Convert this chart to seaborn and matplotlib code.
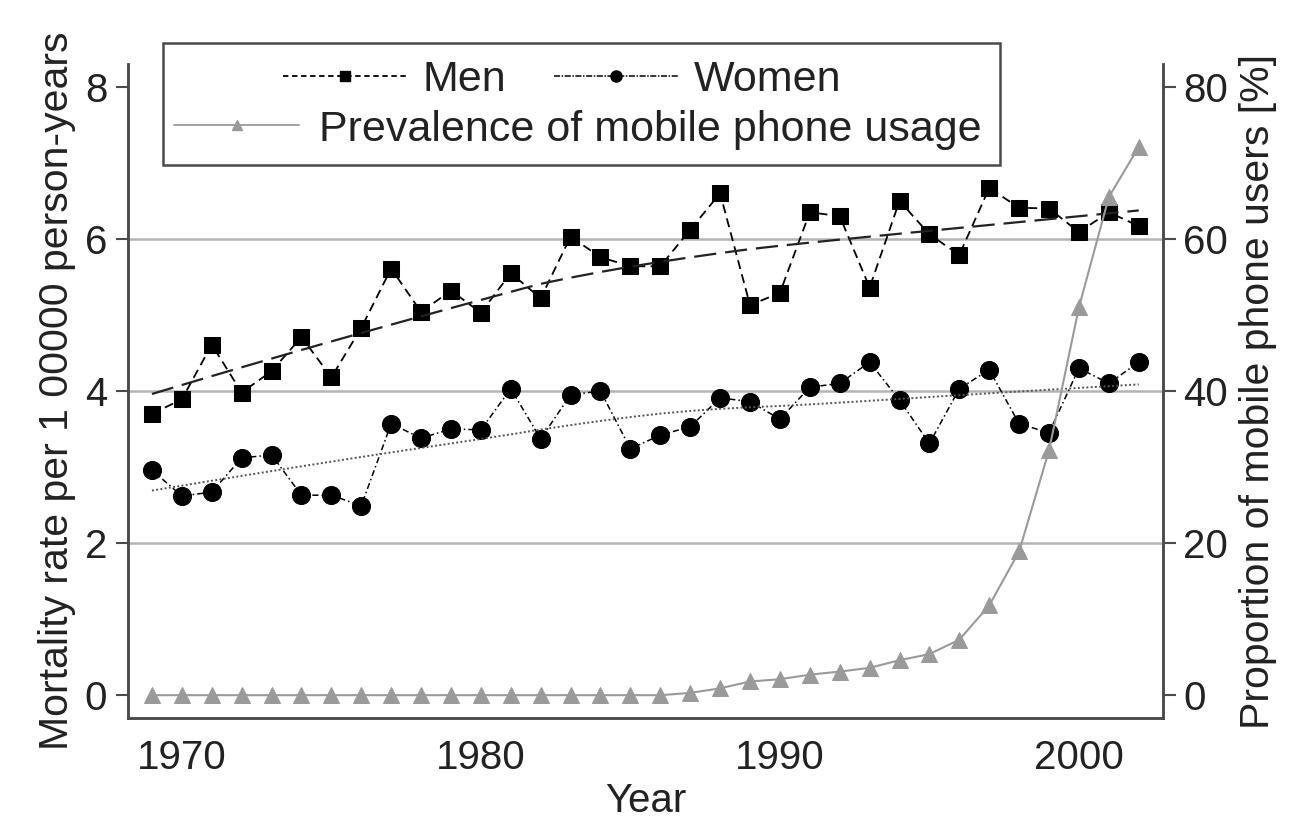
import numpy as np
import pandas as pd
import matplotlib
matplotlib.use("Agg")
import matplotlib.pyplot as plt
import seaborn as sns
from matplotlib.lines import Line2D
from matplotlib.patches import Rectangle

# dados
anos = list(range(1969, 2003))
homens = [3.70, 3.89, 4.61, 3.98, 4.26, 4.71, 4.18, 4.83, 5.61, 5.04,
          5.32, 5.03, 5.55, 5.22, 6.03, 5.76, 5.64, 5.64, 6.12, 6.60,
          5.13, 5.29, 6.35, 6.30, 5.36, 6.50, 6.06, 5.79, 6.67, 6.41,
          6.40, 6.09, 6.35, 6.17]
mulheres = [2.96, 2.62, 2.67, 3.12, 3.16, 2.63, 2.63, 2.49, 3.57, 3.38,
            3.50, 3.49, 4.03, 3.37, 3.95, 4.00, 3.24, 3.42, 3.53, 3.91,
            3.86, 3.63, 4.05, 4.10, 4.38, 3.88, 3.31, 4.03, 4.28, 3.57,
            3.45, 4.30, 4.10, 4.38]
celular = [0, 0, 0, 0, 0, 0, 0, 0, 0, 0,
           0, 0, 0, 0, 0, 0, 0, 0, 0.3, 0.9,
           1.8, 2.1, 2.7, 3.1, 3.6, 4.6, 5.4, 7.3, 11.8, 18.9,
           32.2, 51.0, 65.5, 72.1]


def lowess(x, y, bw=0.8):
    # suavizacao local linear com pesos tricubicos (tipo lowess do Stata)
    x = np.asarray(x, float)
    y = np.asarray(y, float)
    n = len(x)
    k = int(np.ceil(bw * n))
    out = []
    for x0 in x:
        d = np.abs(x - x0)
        h = np.sort(d)[k - 1] * 1.0001
        w = np.clip(1 - (d / h) ** 3, 0, None) ** 3
        W = np.sum(w)
        xm = np.sum(w * x) / W
        ym = np.sum(w * y) / W
        b = np.sum(w * (x - xm) * (y - ym)) / np.sum(w * (x - xm) ** 2)
        out.append(ym + b * (x0 - xm))
    return np.array(out)


df = pd.DataFrame({'ano': anos, 'homens': homens, 'mulheres': mulheres, 'celular': celular})
df['tend_h'] = lowess(df['ano'], df['homens'])
df['tend_m'] = lowess(df['ano'], df['mulheres'])

sns.set_style('white')
plt.rcParams['font.family'] = ['Liberation Sans', 'DejaVu Sans']

fig = plt.figure(figsize=(13.13, 8.25), dpi=100)
ax = fig.add_axes([0.0975, 0.1297, 0.788, 0.7927])
ax2 = ax.twinx()

cinza = '#9a9a9a'
eixo = '#4a4a4a'
texto = '#222222'

# series de mortalidade
sns.lineplot(data=df, x='ano', y='homens', ax=ax, color='black', lw=1.3,
             linestyle=(0, (5, 3)), marker='s', markersize=11, markeredgecolor='black')
sns.lineplot(data=df, x='ano', y='mulheres', ax=ax, color='black', lw=1.1,
             linestyle=(0, (4, 2, 1, 2)), marker='o', markersize=13, markeredgecolor='black')

# tendencias (lowess)
sns.lineplot(data=df, x='ano', y='tend_h', ax=ax, color='#222222', lw=1.6,
             linestyle=(0, (10, 4)))
sns.lineplot(data=df, x='ano', y='tend_m', ax=ax, color='#555555', lw=1.4,
             linestyle=(0, (1, 1.2)))

# celular (eixo da direita)
sns.lineplot(data=df, x='ano', y='celular', ax=ax2, color=cinza, lw=1.5,
             marker='^', markersize=11, markeredgecolor=cinza)

ax.set_xlim(1968.2, 2002.8)
ax.set_ylim(-0.3, 8.3)
ax2.set_ylim(-3, 83)
ax.set_xticks([1970, 1980, 1990, 2000])
ax.set_yticks([0, 2, 4, 6, 8])
ax2.set_yticks([0, 20, 40, 60, 80])

ax.yaxis.grid(True, color='#b4b4b4', lw=1.8)
ax.xaxis.grid(False)
ax2.grid(False)
gl = ax.get_ygridlines()
gl[0].set_visible(False)
gl[-1].set_visible(False)
ax.set_axisbelow(True)

for a in (ax, ax2):
    a.spines['top'].set_visible(False)
    for s in ('left', 'right', 'bottom'):
        a.spines[s].set_color(eixo)
        a.spines[s].set_linewidth(1.8)
    a.tick_params(direction='out', length=9, width=1.5, color=eixo,
                  labelsize=29, labelcolor=texto, pad=6)
ax.tick_params(axis='x', labelsize=29)

ax.set_xlabel('Year', fontsize=29, color=texto, labelpad=4)
ax.set_ylabel('Mortality rate per 1 00000 person-years', fontsize=29.5, color=texto, labelpad=6)
ax2.set_ylabel('Proportion of mobile phone users [%]', fontsize=29.5, color=texto, labelpad=8)

# legenda em caixa unica
fig.patches.append(Rectangle((163 / 1313, 1 - 165 / 825), (1000 - 163) / 1313, (165 - 43) / 825,
                             transform=fig.transFigure, facecolor='white',
                             edgecolor=eixo, lw=1.8, zorder=5))
h_men = Line2D([], [], color='black', lw=1.3, linestyle=(0, (3, 2)), marker='s', markersize=7)
h_wom = Line2D([], [], color='black', lw=1.1, linestyle=(0, (4, 1, 1, 1)), marker='o', markersize=8)
h_cel = Line2D([], [], color=cinza, lw=1.3, marker='^', markersize=7)
leg1 = fig.legend([h_men, h_wom], ['Men', 'Women'], ncol=2, frameon=False, fontsize=31,
                  loc='center', bbox_to_anchor=(0.428, 0.903), handlelength=2.9,
                  handletextpad=0.35, columnspacing=1.1)
leg2 = fig.legend([h_cel], ['Prevalence of mobile phone usage'], frameon=False, fontsize=31,
                  loc='center', bbox_to_anchor=(0.44, 0.843), handlelength=2.9, handletextpad=0.45)
for lg in (leg1, leg2):
    lg.set_zorder(6)
    for t in lg.get_texts():
        t.set_color(texto)

fig.savefig('out.png', dpi=100)
